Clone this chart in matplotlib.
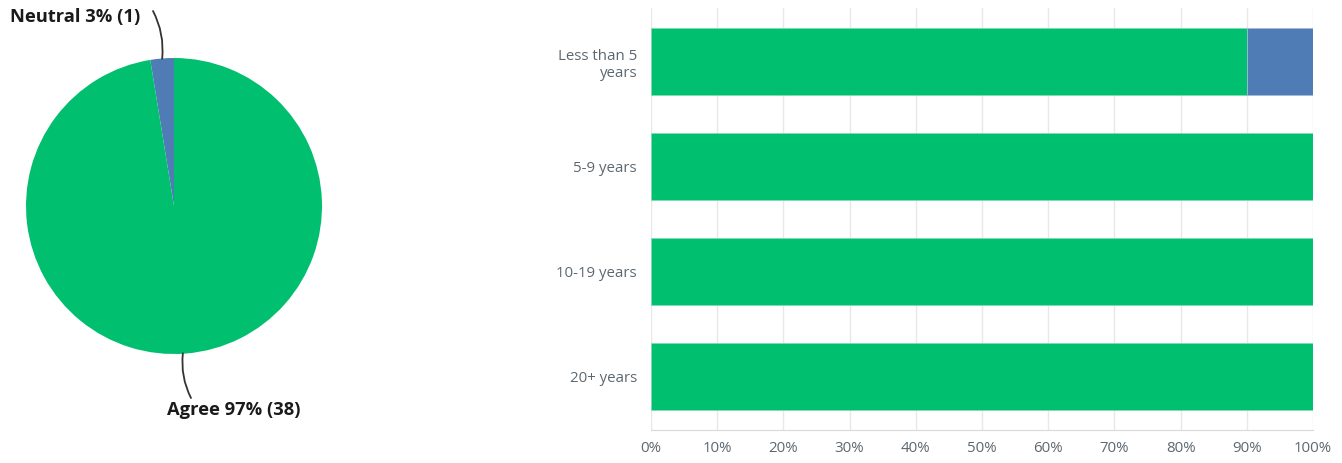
import matplotlib.pyplot as plt
import numpy as np

# datos del pie
pie_labels = ['Agree', 'Neutral']
pie_counts = [38, 1]
pie_pcts = [97, 3]

# datos de las barras
groups = ['Less than 5\nyears', '5-9 years', '10-19 years', '20+ years']
agree_pct = [90, 100, 100, 100]
neutral_pct = [10, 0, 0, 0]

green = '#00bf6f'
blue = '#507cb6'
W, H = 1342, 463

plt.rcParams['font.family'] = ['Open Sans', 'DejaVu Sans']
fig = plt.figure(figsize=(W / 100, H / 100), dpi=100)

def fx(px):
    return px / W

def fy(py):
    return (H - py) / H

# pie
ax1 = fig.add_axes([fx(26), fy(354), 296 / W, 296 / H])
ax1.pie([pie_counts[1], pie_counts[0]], colors=[blue, green],
        startangle=90, counterclock=True, wedgeprops=dict(linewidth=0))
ax1.axis('equal')
ax1.set_xlim(-1, 1)
ax1.set_ylim(-1, 1)

# lineas guia
ax1.annotate('', xy=(-0.08, 0.995), xycoords='data',
             xytext=(fx(153), fy(11)), textcoords='figure fraction',
             arrowprops=dict(arrowstyle='-', color='#333333', lw=1.3,
                             connectionstyle='arc3,rad=-0.15',
                             shrinkA=0, shrinkB=0))
ax1.annotate('', xy=(0.06, -0.995), xycoords='data',
             xytext=(fx(191), fy(398)), textcoords='figure fraction',
             arrowprops=dict(arrowstyle='-', color='#333333', lw=1.3,
                             connectionstyle='arc3,rad=-0.15',
                             shrinkA=0, shrinkB=0))
fig.text(fx(140), fy(17), f'{pie_labels[1]} {pie_pcts[1]}% ({pie_counts[1]})',
         ha='right', va='center', fontsize=13.2, fontweight='bold', color='#1a1a1a')
fig.text(fx(167), fy(410), f'{pie_labels[0]} {pie_pcts[0]}% ({pie_counts[0]})',
         ha='left', va='center', fontsize=13.2, fontweight='bold', color='#1a1a1a')

# barras
ax2 = fig.add_axes([fx(651), fy(430), (1313 - 651) / W, 422 / H])
y = np.arange(len(groups))
ax2.barh(y, agree_pct, height=0.64, color=green, edgecolor='#7fdcb5', linewidth=0.6, zorder=3)
ax2.barh(y, neutral_pct, left=agree_pct, height=0.64, color=blue, edgecolor='#a3b9d8', linewidth=0.6, zorder=3)
ax2.set_xlim(0, 100)
ax2.set_ylim(len(groups) - 0.49, -0.51)
ax2.set_yticks(y)
ax2.set_yticklabels(groups, fontsize=10.8, color='#5c6770')
ax2.set_xticks(np.arange(0, 101, 10))
ax2.set_xticklabels([f'{v}%' for v in range(0, 101, 10)], fontsize=10.8, color='#5c6770')
ax2.tick_params(axis='y', length=0, pad=10)
ax2.tick_params(axis='x', length=0, pad=8)
ax2.grid(axis='x', color='#e8e8e8', lw=1, zorder=0)
for s in ['top', 'right', 'left']:
    ax2.spines[s].set_visible(False)
ax2.spines['bottom'].set_color('#d9d9d9')

fig.savefig('out.png', dpi=100)
